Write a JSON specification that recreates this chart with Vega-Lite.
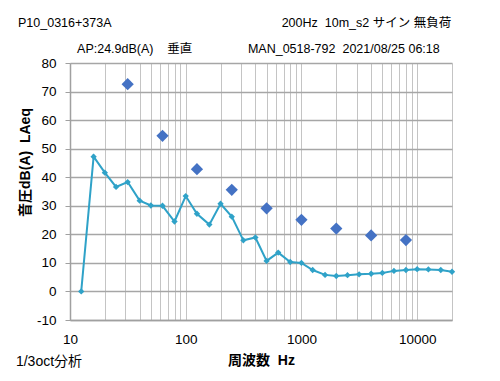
{
  "$schema": "https://vega.github.io/schema/vega-lite/v6.json",
  "autosize": {"type": "none"},
  "width": 382,
  "height": 257,
  "padding": {"left": 70, "top": 63, "right": 48, "bottom": 61},
  "background": "white",
  "config": {
    "view": {"stroke": null},
    "font": "Liberation Sans, Noto Sans CJK JP, sans-serif"
  },
  "title": {
    "text": "P10_0316+373A\u00a0\u00a0\u00a0\u00a0\u00a0\u00a0\u00a0\u00a0\u00a0\u00a0\u00a0\u00a0\u00a0\u00a0\u00a0\u00a0\u00a0\u00a0\u00a0\u00a0\u00a0\u00a0\u00a0\u00a0\u00a0\u00a0\u00a0\u00a0\u00a0\u00a0\u00a0\u00a0\u00a0\u00a0\u00a0\u00a0\u00a0\u00a0\u00a0\u00a0\u00a0\u00a0\u00a0\u00a0\u00a0\u00a0\u00a0\u00a0\u00a0200Hz\u00a0\u00a010m_s2\u00a0サイン\u00a0無負荷",
    "subtitle": "\u200b\u00a0\u00a0\u00a0\u00a0\u00a0\u00a0\u00a0\u00a0\u00a0\u00a0\u00a0\u00a0\u00a0\u00a0\u00a0\u00a0\u00a0AP:24.9dB(A)\u00a0\u00a0\u00a0\u00a0垂直\u00a0\u00a0\u00a0\u00a0\u00a0\u00a0\u00a0\u00a0\u00a0\u00a0\u00a0\u00a0\u00a0\u00a0\u00a0\u00a0MAN_0518-792\u00a0\u00a02021/08/25\u00a006:18",
    "anchor": "start",
    "frame": "group",
    "dx": -52,
    "fontSize": 12.5,
    "fontWeight": "normal",
    "color": "black",
    "subtitleFontSize": 12.5,
    "subtitleColor": "black",
    "subtitlePadding": 13,
    "offset": 1
  },
  "data": {
    "values": [
      {"series": "third", "freq": 12.5, "level": 0},
      {"series": "third", "freq": 16, "level": 47.2},
      {"series": "third", "freq": 20, "level": 41.6},
      {"series": "third", "freq": 25, "level": 36.6},
      {"series": "third", "freq": 31.5, "level": 38.3},
      {"series": "third", "freq": 40, "level": 31.8},
      {"series": "third", "freq": 50, "level": 30.1},
      {"series": "third", "freq": 63, "level": 30.0},
      {"series": "third", "freq": 80, "level": 24.5},
      {"series": "third", "freq": 100, "level": 33.4},
      {"series": "third", "freq": 125, "level": 27.2},
      {"series": "third", "freq": 160, "level": 23.4},
      {"series": "third", "freq": 200, "level": 30.7},
      {"series": "third", "freq": 250, "level": 26.2},
      {"series": "third", "freq": 315, "level": 17.9},
      {"series": "third", "freq": 400, "level": 18.9},
      {"series": "third", "freq": 500, "level": 10.7},
      {"series": "third", "freq": 630, "level": 13.6},
      {"series": "third", "freq": 800, "level": 10.3},
      {"series": "third", "freq": 1000, "level": 10.0},
      {"series": "third", "freq": 1250, "level": 7.5},
      {"series": "third", "freq": 1600, "level": 5.8},
      {"series": "third", "freq": 2000, "level": 5.4},
      {"series": "third", "freq": 2500, "level": 5.7},
      {"series": "third", "freq": 3150, "level": 6.0},
      {"series": "third", "freq": 4000, "level": 6.2},
      {"series": "third", "freq": 5000, "level": 6.5},
      {"series": "third", "freq": 6300, "level": 7.2},
      {"series": "third", "freq": 8000, "level": 7.5},
      {"series": "third", "freq": 10000, "level": 7.8},
      {"series": "third", "freq": 12500, "level": 7.7},
      {"series": "third", "freq": 16000, "level": 7.5},
      {"series": "third", "freq": 20000, "level": 6.9},
      {"series": "octave", "freq": 31.5, "level": 72.6},
      {"series": "octave", "freq": 63, "level": 54.5},
      {"series": "octave", "freq": 125, "level": 42.8},
      {"series": "octave", "freq": 250, "level": 35.6},
      {"series": "octave", "freq": 500, "level": 29.1},
      {"series": "octave", "freq": 1000, "level": 25.1},
      {"series": "octave", "freq": 2000, "level": 22.0},
      {"series": "octave", "freq": 4000, "level": 19.6},
      {"series": "octave", "freq": 8000, "level": 18.0}
    ]
  },
  "encoding": {
    "x": {
      "field": "freq",
      "type": "quantitative",
      "scale": {"type": "log", "domain": [10, 20000], "nice": false},
      "axis": {
        "values": [10, 20, 30, 40, 50, 60, 70, 80, 90, 100, 200, 300, 400, 500, 600, 700, 800, 900, 1000, 2000, 3000, 4000, 5000, 6000, 7000, 8000, 9000, 10000, 20000],
        "labelExpr": "(datum.value == 10 || datum.value == 100 || datum.value == 1000 || datum.value == 10000) ? datum.value + '' : ''",
        "labelFlush": false,
        "labelOverlap": false,
        "ticks": false,
        "grid": true,
        "gridColor": "#c4c4c4",
        "gridWidth": 1,
        "domainColor": "#a0a0a0",
        "domainWidth": 1.5,
        "labelFontSize": 13.5,
        "labelColor": "black",
        "labelPadding": 12,
        "title": "周波数\u00a0\u00a0Hz",
        "titleFontSize": 14,
        "titleFontWeight": "bold",
        "titleColor": "black",
        "titlePadding": 8
      }
    },
    "y": {
      "field": "level",
      "type": "quantitative",
      "scale": {"domain": [-10, 80], "nice": false},
      "axis": {
        "values": [-10, 0, 10, 20, 30, 40, 50, 60, 70, 80],
        "labelExpr": "datum.value + ''",
        "grid": true,
        "gridColor": "#a6a6a6",
        "gridWidth": 1.5,
        "domainColor": "#a0a0a0",
        "domainWidth": 1.5,
        "tickColor": "#a0a0a0",
        "tickSize": 5,
        "labelFontSize": 13.5,
        "labelColor": "black",
        "labelPadding": 9,
        "title": "音圧dB(A)\u00a0\u00a0LAeq",
        "titleFontSize": 14,
        "titleFontWeight": "bold",
        "titleColor": "black",
        "titleX": -45,
        "titleY": 99,
        "titleBaseline": "middle",
        "titleAngle": -90
      }
    }
  },
  "layer": [
    {
      "transform": [{"filter": "datum.series == 'third'"}],
      "mark": {
        "type": "line",
        "color": "#2fa2c8",
        "strokeWidth": 2,
        "point": {"shape": "diamond", "size": 40, "filled": true, "color": "#2fa2c8", "opacity": 1}
      }
    },
    {
      "transform": [{"filter": "datum.series == 'octave'"}],
      "mark": {"type": "point", "shape": "diamond", "filled": true, "size": 150, "color": "#4472c4", "opacity": 1}
    },
    {
      "transform": [{"filter": "datum.series == 'third' && datum.freq == 12.5"}],
      "mark": {"type": "text", "text": "1/3oct分析", "align": "left", "baseline": "middle", "fontSize": 14, "fontWeight": "normal", "color": "black"},
      "encoding": {
        "x": {"datum": 3.41},
        "y": {"datum": -24.7}
      }
    }
  ]
}
